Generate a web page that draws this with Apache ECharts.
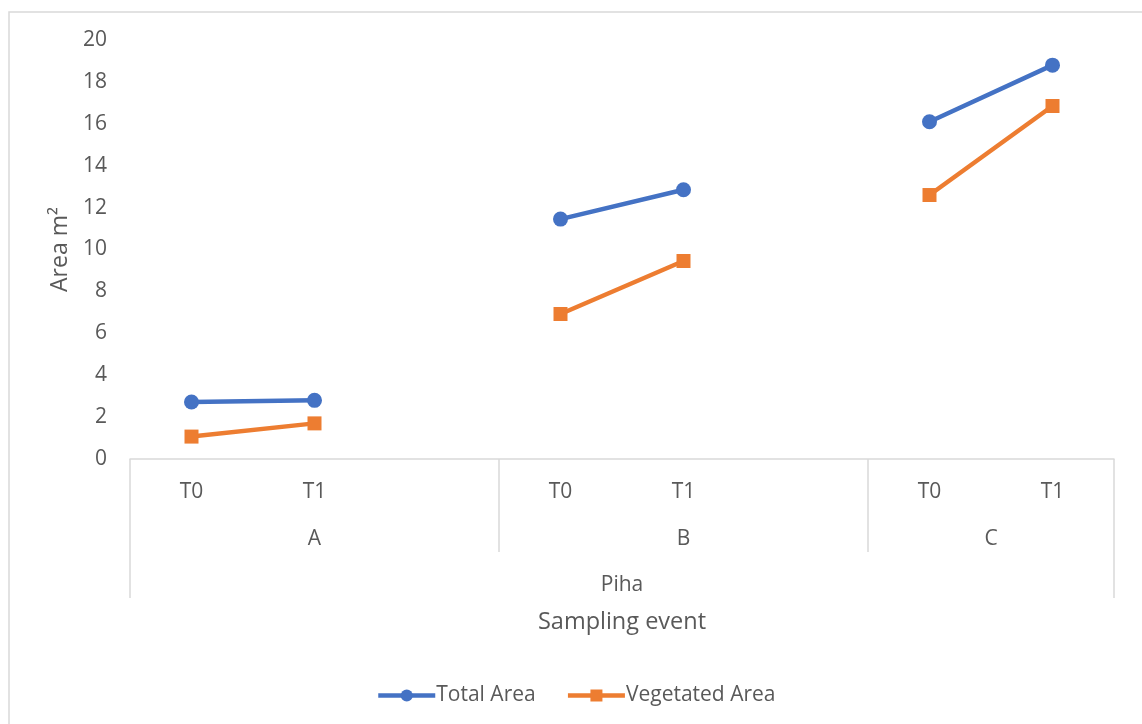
<!DOCTYPE html>
<html>
<head>
<meta charset="utf-8">
<script src="https://cdn.jsdelivr.net/npm/echarts@6/dist/echarts.min.js"></script>
<style>
html,body{margin:0;padding:0;background:#fff;}
#chart{width:1142px;height:724px;}
</style>
</head>
<body>
<div id="chart"></div>
<script>
// ---- data ----
const categories = ['T0', 'T1', '', 'T0', 'T1', '', 'T0', 'T1'];
const groupLabels = ['A', 'B', 'C'];
const groupSlots = [3, 3, 2];          // category slots spanned by each group
const siteLabel = 'Piha';
const totalArea = [2.72, 2.8, null, 11.45, 12.85, null, 16.1, 18.8];
const vegetatedArea = [1.07, 1.7, null, 6.92, 9.45, null, 12.6, 16.85];
const yMin = 0, yMax = 20, yStep = 2;

// derived group centres in slot units
const groupCenters = [];
let acc = 0;
groupSlots.forEach(n => { groupCenters.push(acc + n / 2); acc += n; });
const nSlots = categories.length;

const FONT = 'Open Sans';
const TXT = '#595959';
const AXC = '#d9d9d9';

const chart = echarts.init(document.getElementById('chart'), null, {renderer: 'canvas'});
chart.setOption({
  backgroundColor: '#fff',
  animation: false,
  textStyle: {fontFamily: FONT},
  graphic: [{
    type: 'rect', silent: true, z: -1,
    shape: {x: 9, y: 12, width: 1300, height: 900},
    style: {fill: 'none', stroke: AXC, lineWidth: 1.5}
  }],
  grid: {left: 130, right: 28, top: 40, bottom: 265, containLabel: false},
  legend: {
    top: 680, left: 371,
    itemWidth: 57, itemHeight: 15, itemGap: 30,
    lineStyle: {width: 4.5},
    textStyle: {fontFamily: FONT, fontSize: 21, color: TXT, padding: [0, 0, 0, -4]},
    data: ['Total Area', 'Vegetated Area']
  },
  xAxis: [
    { // level 1: T0/T1
      type: 'category', data: categories, position: 'bottom', boundaryGap: true,
      axisLine: {show: true, lineStyle: {color: AXC, width: 1.5}},
      axisTick: {show: false},
      axisLabel: {interval: 0, margin: 23, fontSize: 21, color: TXT, fontFamily: FONT},
      splitLine: {show: false}
    },
    { // group separators (inner)
      type: 'value', min: 0, max: nSlots, interval: groupSlots[0], position: 'bottom',
      axisLine: {show: false},
      axisTick: {show: true, length: 93, lineStyle: {color: AXC, width: 1.5}},
      axisLabel: {show: false}, splitLine: {show: false}
    },
    { // outer separators
      type: 'value', min: 0, max: nSlots, interval: nSlots, position: 'bottom',
      axisLine: {show: false},
      axisTick: {show: true, length: 139, lineStyle: {color: AXC, width: 1.5}},
      axisLabel: {show: false}, splitLine: {show: false}
    },
    { // level 2: A/B/C
      type: 'value', min: 0, max: nSlots, interval: 0.5, position: 'bottom',
      axisLine: {show: false}, axisTick: {show: false}, splitLine: {show: false},
      axisLabel: {
        margin: 70, fontSize: 21, color: TXT, fontFamily: FONT,
        showMinLabel: true, showMaxLabel: true,
        formatter: v => { const i = groupCenters.indexOf(v); return i >= 0 ? groupLabels[i] : ''; }
      }
    },
    { // level 3: Piha + axis title
      type: 'value', min: 0, max: nSlots, interval: nSlots / 2, position: 'bottom',
      axisLine: {show: false}, axisTick: {show: false}, splitLine: {show: false},
      axisLabel: {
        margin: 116, fontSize: 21, color: TXT, fontFamily: FONT,
        formatter: v => v === nSlots / 2 ? siteLabel : ''
      },
      name: 'Sampling event', nameLocation: 'middle', nameGap: 151,
      nameTextStyle: {fontSize: 23.5, color: TXT, fontFamily: FONT}
    }
  ],
  yAxis: {
    type: 'value', min: yMin, max: yMax, interval: yStep,
    axisLine: {show: false}, axisTick: {show: false}, splitLine: {show: false},
    axisLabel: {fontSize: 21, color: TXT, margin: 23, fontFamily: FONT},
    name: 'Area m²', nameLocation: 'middle', nameGap: 57,
    nameTextStyle: {fontSize: 23, color: TXT, fontFamily: FONT}
  },
  series: [
    {
      name: 'Total Area', type: 'line', xAxisIndex: 0, data: totalArea,
      symbol: 'circle', symbolSize: 15, connectNulls: false,
      lineStyle: {color: '#4472C4', width: 4.5},
      itemStyle: {color: '#4472C4'}
    },
    {
      name: 'Vegetated Area', type: 'line', xAxisIndex: 0, data: vegetatedArea,
      symbol: 'rect', symbolSize: 14, connectNulls: false,
      lineStyle: {color: '#ED7D31', width: 4.5},
      itemStyle: {color: '#ED7D31'}
    }
  ]
});
</script>
</body>
</html>
